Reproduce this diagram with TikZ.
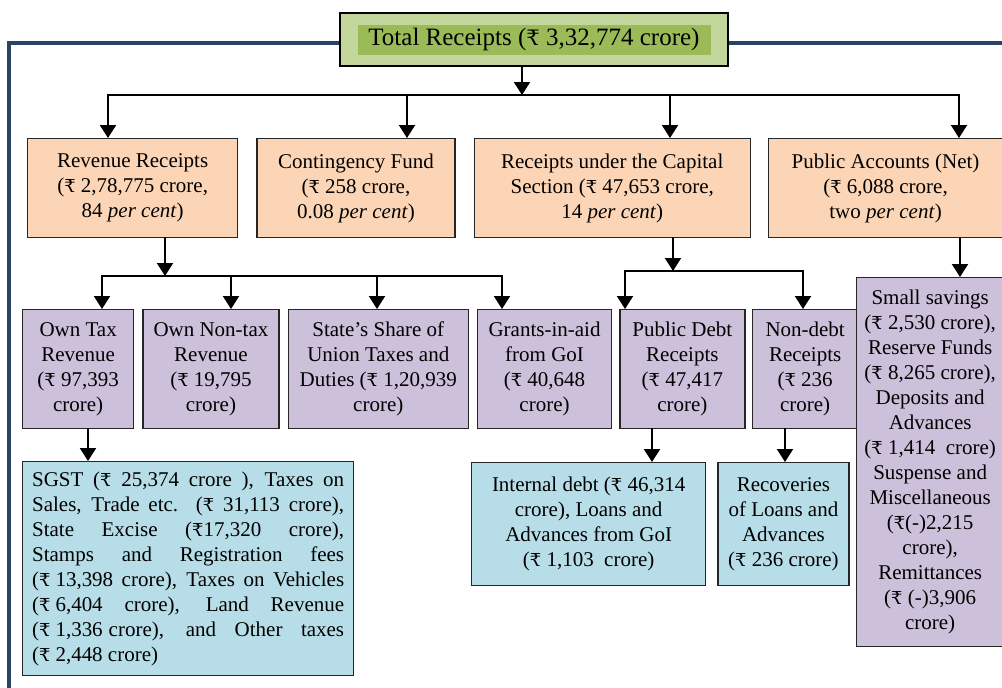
\documentclass[tikz,border=0pt]{standalone}
\usepackage{fontspec}
\setmainfont{Liberation Serif}
\newfontfamily\rupfont{DejaVu Serif}[Scale=0.85]
\usepackage{tikz}
\usetikzlibrary{positioning, arrows.meta}
\tikzset{>={Triangle[width=16pt, length=13pt]}}
\definecolor{frameblue}{RGB}{41,66,101}
\definecolor{greenlight}{RGB}{195,214,155}
\definecolor{greendark}{RGB}{155,187,89}
\definecolor{orangefill}{RGB}{251,213,181}
\definecolor{purplefill}{RGB}{204,192,218}
\definecolor{bluefill}{RGB}{183,222,232}
\newcommand{\Rs}{{\rupfont\char"20B9}}
\newcommand{\jline}[1]{\makebox[312pt][s]{#1}}

\begin{document}
\begin{tikzpicture}
    [x=1pt, y=-1pt,
     every node/.style={font=\fontsize{21}{25}\selectfont, inner sep=2pt, align=center},
     box/.style={draw=black!85, line width=1.3pt, anchor=north west},
     rbox/.style={box, fill=orangefill, minimum height=99pt},
     pbox/.style={box, fill=purplefill, minimum height=119pt},
     bbox/.style={box, fill=bluefill},
     topbox/.style={draw=black, line width=2.5pt, fill=greenlight, minimum width=388pt, minimum height=53pt},
     topin/.style={fill=greendark, minimum width=353pt, minimum height=30pt, font=\fontsize{25}{28}\selectfont},
     conn/.style={line width=2pt, line cap=rect},
     frame/.style={draw=frameblue, line width=3.3pt}]
    \useasboundingbox (0,0) rectangle (1002,688);

    \draw[frame] (1002,43) -- (9,43) -- (9,688);

    \node[topbox] (total) at (534,39.5) {};
    \node[topin] (totalin) at (total) {Total Receipts (\Rs{} 3,32,774 crore)};

    \node[rbox, minimum width=210pt] (rev) at (27,138) {Revenue Receipts\\(\Rs{} 2,78,775 crore,\\84 \textit{per cent})};
    \node[rbox, minimum width=198pt, right=18pt of rev] (cont) {Contingency Fund\\(\Rs{} 258 crore,\\0.08 \textit{per cent})};
    \node[rbox, minimum width=276pt, right=18pt of cont] (cap) {Receipts under the Capital\\Section (\Rs{} 47,653 crore,\\14 \textit{per cent})};
    \node[rbox, minimum width=234pt, right=17pt of cap] (pa) {Public Accounts (Net)\\(\Rs{} 6,088 crore,\\two \textit{per cent})};

    \node[pbox, minimum width=111pt] (owntax) at (22,309) {Own Tax\\Revenue\\(\Rs{} 97,393\\crore)};
    \node[pbox, minimum width=136pt, right=8pt of owntax] (nontax) {Own Non-tax\\Revenue\\(\Rs{} 19,795\\crore)};
    \node[pbox, minimum width=180pt, right=8pt of nontax] (share) {State's Share of\\Union Taxes and\\Duties (\Rs{} 1,20,939\\crore)};
    \node[pbox, minimum width=134pt, right=8pt of share] (grants) {Grants-in-aid\\from GoI\\(\Rs{} 40,648\\crore)};
    \node[pbox, minimum width=125pt, right=7pt of grants] (pdebt) {Public Debt\\Receipts\\(\Rs{} 47,417\\crore)};
    \node[pbox, minimum width=106pt, right=6pt of pdebt] (nondebt) {Non-debt\\Receipts\\(\Rs{} 236\\crore)};
    \node[pbox, minimum width=147pt, minimum height=369pt] (pubacc) at (856,277) {Small savings\\(\Rs{} 2,530 crore),\\Reserve Funds\\(\Rs{} 8,265 crore),\\Deposits and\\Advances\\(\Rs{} 1,414~ crore)\\Suspense and\\Miscellaneous\\(\Rs(-)2,215\\crore),\\Remittances\\(\Rs{} (-)3,906\\crore)};

    \node[bbox, minimum width=331pt, minimum height=214pt, align=left] (sgst) at (22,461)
      {\jline{SGST (\Rs{} 25,374 crore ), Taxes on}\\
       \jline{Sales, Trade etc. (\Rs{} 31,113 crore),}\\
       \jline{State Excise (\Rs17,320 crore),}\\
       \jline{Stamps and Registration fees}\\
       \jline{(\Rs\kern5pt13,398 crore), Taxes on Vehicles}\\
       \jline{(\Rs\kern5pt6,404 crore), Land Revenue}\\
       \jline{(\Rs\kern5pt1,336\kern6pt crore), and Other taxes}\\
       (\Rs\kern5pt2,448 crore)};
    \node[bbox, minimum width=234pt, minimum height=123pt] (internal) at (471,462) {Internal debt (\Rs{} 46,314\\crore), Loans and\\Advances from GoI\\(\Rs{} 1,103~ crore)};
    \node[bbox, minimum width=131pt, minimum height=123pt, right=11pt of internal] (recov) {Recoveries\\of Loans and\\Advances\\(\Rs{} 236 crore)};

    \coordinate (a0) at (522,95);
    \coordinate (a1) at (108,95);
    \coordinate (a2) at (407,95);
    \coordinate (a3) at (670,95);
    \coordinate (a4) at (959,95);
    \draw[->, conn] (a0 |- total.south) -- (a0);
    \draw[conn] (a1) -- (a4);
    \foreach \a/\n in {a1/rev, a2/cont, a3/cap, a4/pa}
      \draw[->, conn] (\a) -- (\a |- \n.north);

    \coordinate (r0) at (165,276);
    \coordinate (r1) at (102,276);
    \coordinate (r2) at (231,276);
    \coordinate (r3) at (377,276);
    \coordinate (r4) at (502,276);
    \draw[->, conn] (r0 |- rev.south) -- (r0);
    \draw[conn] (r1) -- (r4);
    \foreach \a/\n in {r1/owntax, r2/nontax, r3/share, r4/grants}
      \draw[->, conn] (\a) -- (\a |- \n.north);

    \coordinate (c0) at (673,271);
    \coordinate (c1) at (625,271);
    \coordinate (c2) at (803,271);
    \draw[->, conn] (c0 |- cap.south) -- (c0);
    \draw[conn] (c1) -- (c2);
    \foreach \a/\n in {c1/pdebt, c2/nondebt}
      \draw[->, conn] (\a) -- (\a |- \n.north);

    \coordinate (p0) at (960,260);
    \draw[->, conn] (p0 |- pa.south) -- (p0 |- pubacc.north);

    \coordinate (o0) at (88,445);
    \coordinate (d0) at (652,445);
    \coordinate (n0) at (785,445);
    \draw[->, conn] (o0 |- owntax.south) -- (o0 |- sgst.north);
    \draw[->, conn] (d0 |- pdebt.south) -- (d0 |- internal.north);
    \draw[->, conn] (n0 |- nondebt.south) -- (n0 |- recov.north);
  \end{tikzpicture}
\end{document}
